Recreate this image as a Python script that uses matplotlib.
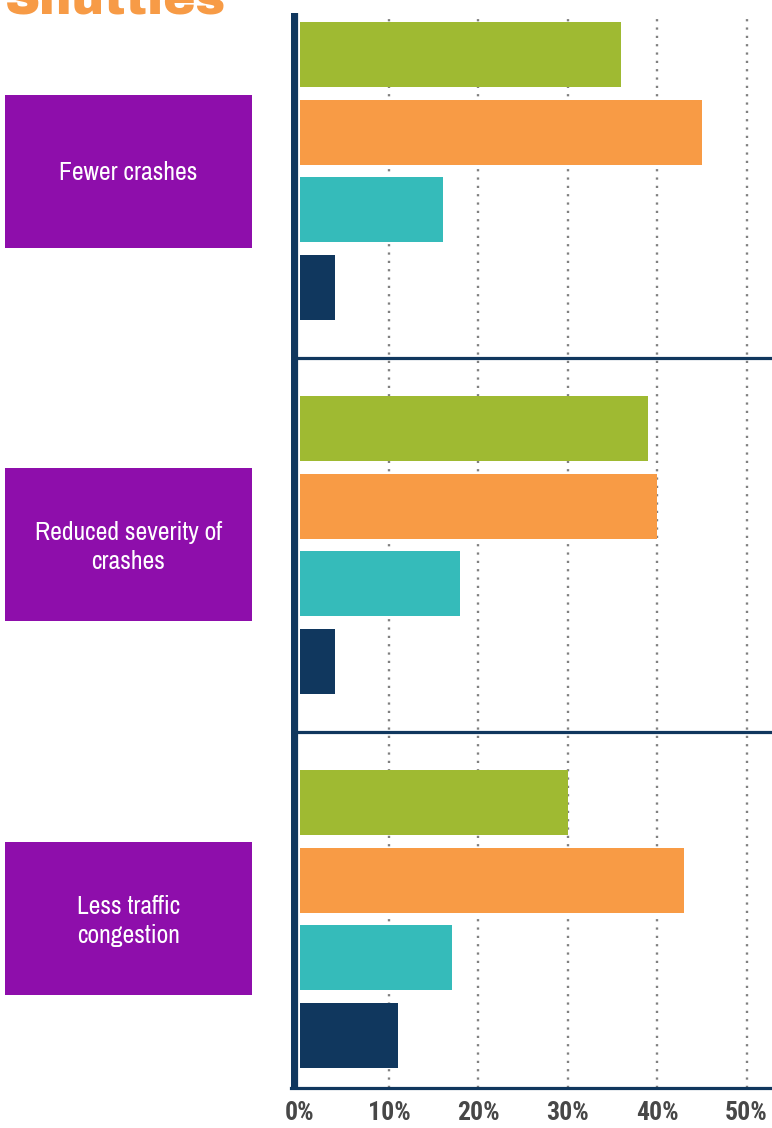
import matplotlib
matplotlib.use("Agg")
import matplotlib.pyplot as plt
from matplotlib.patches import Rectangle
from matplotlib import transforms

plt.rcParams['lines.scale_dashes'] = False

# Data
categories = ["Fewer crashes", "Reduced severity of\ncrashes", "Less traffic\ncongestion"]
series_green = [36, 39, 30]
series_orange = [45, 40, 43]
series_teal = [16, 18, 17]
series_navy = [4, 4, 11]
tick_values = [0, 10, 20, 30, 40, 50]
tick_labels = ["0%", "10%", "20%", "30%", "40%", "50%"]

series = [series_green, series_orange, series_teal, series_navy]
colors = ["#9FBA32", "#F89B45", "#35BBBA", "#10375E"]
NAVY = "#10375E"
PURPLE = "#8E0EAB"
GRAY = "#474747"
narrow = ['Archivo Narrow', 'DejaVu Sans']
narrow_bold = ['Roboto Condensed', 'DejaVu Sans']
heavy = ['Archivo Black', 'DejaVu Sans']

W, H = 772, 1128
fig = plt.figure(figsize=(W / 100, H / 100), dpi=100)

# axes geometry in pixels
left_px, right_px = 290.6, 772
top_px, bottom_px = 13, 1088
ax = fig.add_axes([left_px / W, 1 - bottom_px / H,
                   (right_px - left_px) / W, (bottom_px - top_px) / H])

pitch = 0.2072
bar_h = 0.1738
offsets = [-1.5, -0.5, 0.5, 1.5]
for s_vals, col, off in zip(series, colors, offsets):
    ys = [g + off * pitch for g in range(len(categories))]
    ax.barh(ys, s_vals, height=bar_h, color=col, zorder=2)

ax.set_xlim(-1.0, 52.85)
ax.set_ylim(2.452, -0.4225)

# dotted gridlines
for v in tick_values[1:]:
    ax.axvline(v, color="#808080", lw=1.7, linestyle=(0, (1.6, 4.4)), zorder=1)

# group separators
for sep in [0.5, 1.5]:
    ax.axhline(sep, color=NAVY, lw=2.3, zorder=3)

# vertical category axis line
ax.axvline(-0.6, color=NAVY, lw=5.2, zorder=4)

for side in ["left", "right", "top"]:
    ax.spines[side].set_visible(False)
ax.spines["bottom"].set_color(NAVY)
ax.spines["bottom"].set_linewidth(2.3)
ax.spines["bottom"].set_zorder(5)

ax.set_yticks([])
ax.set_xticks(tick_values)
ax.set_xticklabels(tick_labels, family=narrow_bold, fontweight="bold", fontsize=18.5, color=GRAY)
ax.tick_params(axis="x", length=0, pad=9)

# category boxes on the left
trans = transforms.blended_transform_factory(fig.transFigure, ax.transData)
box_h = 153 / 374
for g, label in enumerate(categories):
    ax.add_patch(Rectangle((5 / W, g - box_h / 2), 247 / W, box_h, transform=trans,
                           facecolor=PURPLE, edgecolor="none", clip_on=False, zorder=2))
    ax.text(128.5 / W, g + 0.005, label, transform=trans, ha="center", va="center",
            color="white", fontsize=18.5, family=narrow, linespacing=1.35,
            multialignment="center", clip_on=False)

fig.text(5 / W, 1 - 14 / H, "Shuttles", color="#F79B46", fontsize=35,
         family=heavy, ha="left", va="baseline")

fig.savefig("out.png", dpi=100)
